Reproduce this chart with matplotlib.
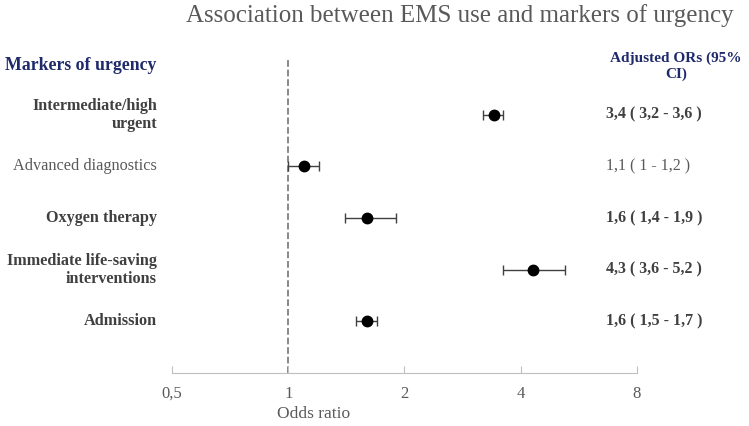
import matplotlib
matplotlib.use("Agg")
import matplotlib.pyplot as plt
import numpy as np

# data
markers = [
    "Intermediate/high\nurgent",
    "Advanced diagnostics",
    "Oxygen therapy",
    "Immediate life-saving\ninterventions",
    "Admission",
]
odds = [3.4, 1.1, 1.6, 4.3, 1.6]
ci_low = [3.2, 1.0, 1.4, 3.6, 1.5]
ci_high = [3.6, 1.2, 1.9, 5.2, 1.7]
or_labels = [
    "3,4 ( 3,2 - 3,6 )",
    "1,1 ( 1 - 1,2 )",
    "1,6 ( 1,4 - 1,9 )",
    "4,3 ( 3,6 - 5,2 )",
    "1,6 ( 1,5 - 1,7 )",
]
is_bold = [True, False, True, True, True]
xticks = [0.5, 1, 2, 4, 8]
xtick_labels = ["0,5", "1", "2", "4", "8"]

plt.rcParams["font.family"] = ["Liberation Serif", "DejaVu Serif"]

fig = plt.figure(figsize=(7.49, 4.26), dpi=100)
ax = fig.add_axes([0.2296, 0.1244, 0.8505 - 0.2296, 0.859 - 0.1244])

n = len(markers)
ypos = np.arange(n, 0, -1)
odds = np.array(odds)
err = np.vstack([odds - np.array(ci_low), np.array(ci_high) - odds])

ax.errorbar(odds, ypos, xerr=err, fmt="none", ecolor="#404040",
            elinewidth=1, capsize=3.3, capthick=1, zorder=2)
ax.plot(odds, ypos, "o", color="black", markersize=7.5, zorder=3)
ax.axvline(1, color="#7f7f7f", linestyle="--", linewidth=1.3, zorder=1)

ax.set_xscale("log", base=2)
ax.set_xlim(0.5, 8)
ax.set_ylim(0, 6.06)
ax.set_xticks(xticks)
ax.set_xticklabels(xtick_labels)
ax.minorticks_off()
ax.set_yticks([])
for s in ["top", "right", "left"]:
    ax.spines[s].set_visible(False)
ax.spines["bottom"].set_color("#bfbfbf")
ax.tick_params(axis="x", direction="in", length=5, color="#bfbfbf",
               labelcolor="#595959", labelsize=12, pad=9)

tr = ax.get_yaxis_transform()
for y, lab, val, b in zip(ypos, markers, or_labels, is_bold):
    col = "#404040" if b else "#595959"
    w = "bold" if b else "normal"
    ax.text(-0.032, y, lab, transform=tr, ha="right", va="center",
            fontsize=11.7, fontweight=w, color=col, linespacing=1.2)
    ax.text(0.933, y, val, transform=tr, ha="left", va="center",
            fontsize=11.5, fontweight=w, color=col)

fig.text(0.007, 1 - 65 / 426, "Markers of urgency", ha="left", va="center",
         fontsize=12.8, fontweight="bold", color="#1f2a6b")
fig.text(676 / 749, 1 - 66 / 426, "Adjusted ORs (95%\nCI)", ha="center",
         va="center", fontsize=11, fontweight="bold", color="#1f2a6b",
         linespacing=1.25)
fig.text(460 / 749, 1 - 16 / 426, "Association between EMS use and markers of urgency",
         ha="center", va="center", fontsize=18, color="#595959")
fig.text(314 / 749, 1 - 414 / 426, "Odds ratio", ha="center", va="center",
         fontsize=12.5, color="#595959")

fig.savefig("out.png", dpi=100)
